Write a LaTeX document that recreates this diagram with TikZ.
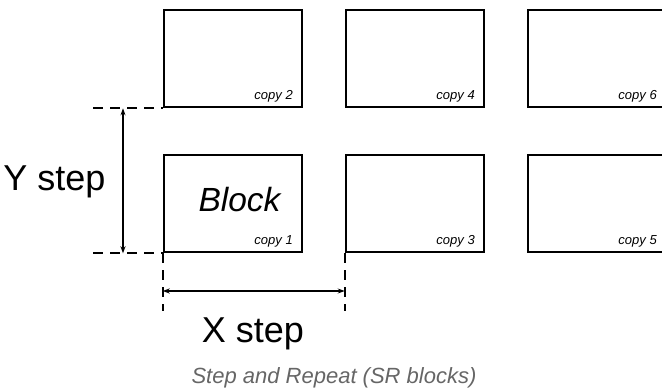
\documentclass[tikz,border=0pt]{standalone}
\usepackage{fontspec}
\setmainfont{Liberation Sans}
\usetikzlibrary{arrows.meta,calc}

\begin{document}
\begin{tikzpicture}[x=1pt, y=-1pt,
  block/.style={draw, line width=2.6pt, minimum width=138pt, minimum height=97pt, inner sep=0pt},
  copylabel/.style={anchor=base east, font=\fontsize{13}{15}\selectfont\itshape},
  guide/.style={line width=1.8pt, dash pattern=on 10pt off 7pt},
  dim/.style={line width=1.4pt, {Stealth[length=7pt,width=5pt]}-{Stealth[length=7pt,width=5pt]}},
  big/.style={font=\fontsize{36}{40}\selectfont}]
\useasboundingbox (0,0) rectangle (662,390);

% the block and its copies
\node[block] (copy1) at (233,203.5) {};
\node[block] (copy2) at (233,58.5) {};
\node[block] (copy3) at (415,203.5) {};
\node[block] (copy4) at (415,58.5) {};
\node[block] (copy5) at (597,203.5) {};
\node[block] (copy6) at (597,58.5) {};

\node[copylabel] at ([xshift=-7pt,yshift=9pt]copy1.south east) {copy 1};
\node[copylabel] at ([xshift=-7pt,yshift=9pt]copy2.south east) {copy 2};
\node[copylabel] at ([xshift=-7pt,yshift=9pt]copy3.south east) {copy 3};
\node[copylabel] at ([xshift=-7pt,yshift=9pt]copy4.south east) {copy 4};
\node[copylabel] at ([xshift=-7pt,yshift=9pt]copy5.south east) {copy 5};
\node[copylabel] at ([xshift=-7pt,yshift=9pt]copy6.south east) {copy 6};

\node[anchor=base west, font=\fontsize{33.5}{38}\selectfont\itshape] (blocktext) at (195,212) {Block};

% Y step
\coordinate (yleft2) at (93,0 |- copy2.south);
\coordinate (yleft1) at (93,0 |- copy1.south);
\draw[guide] (yleft2) -- (copy2.south west);
\draw[guide] (yleft1) -- (copy1.south west);
\coordinate (ytop) at (123,0 |- copy2.south);
\coordinate (ybot) at (123,0 |- copy1.south);
\draw[dim] (ytop) -- (ybot);
\node[big, anchor=base east] (ystep) at (109,191) {Y step};

% X step
\coordinate (xdown1) at (copy1.south west |- 0,311);
\coordinate (xdown3) at (copy3.south west |- 0,311);
\draw[guide] (copy1.south west) -- (xdown1);
\draw[guide] (copy3.south west) -- (xdown3);
\coordinate (xleft) at (copy1.south west |- 0,291);
\coordinate (xright) at (copy3.south west |- 0,291);
\draw[dim] (xleft) -- (xright);
\node[big, anchor=base] (xstep) at (253,342) {X step};

\node[font=\fontsize{22}{26}\selectfont\itshape, text=black!60, anchor=base] (caption) at (334,383) {Step and Repeat (SR blocks)};

\end{tikzpicture}
\end{document}
